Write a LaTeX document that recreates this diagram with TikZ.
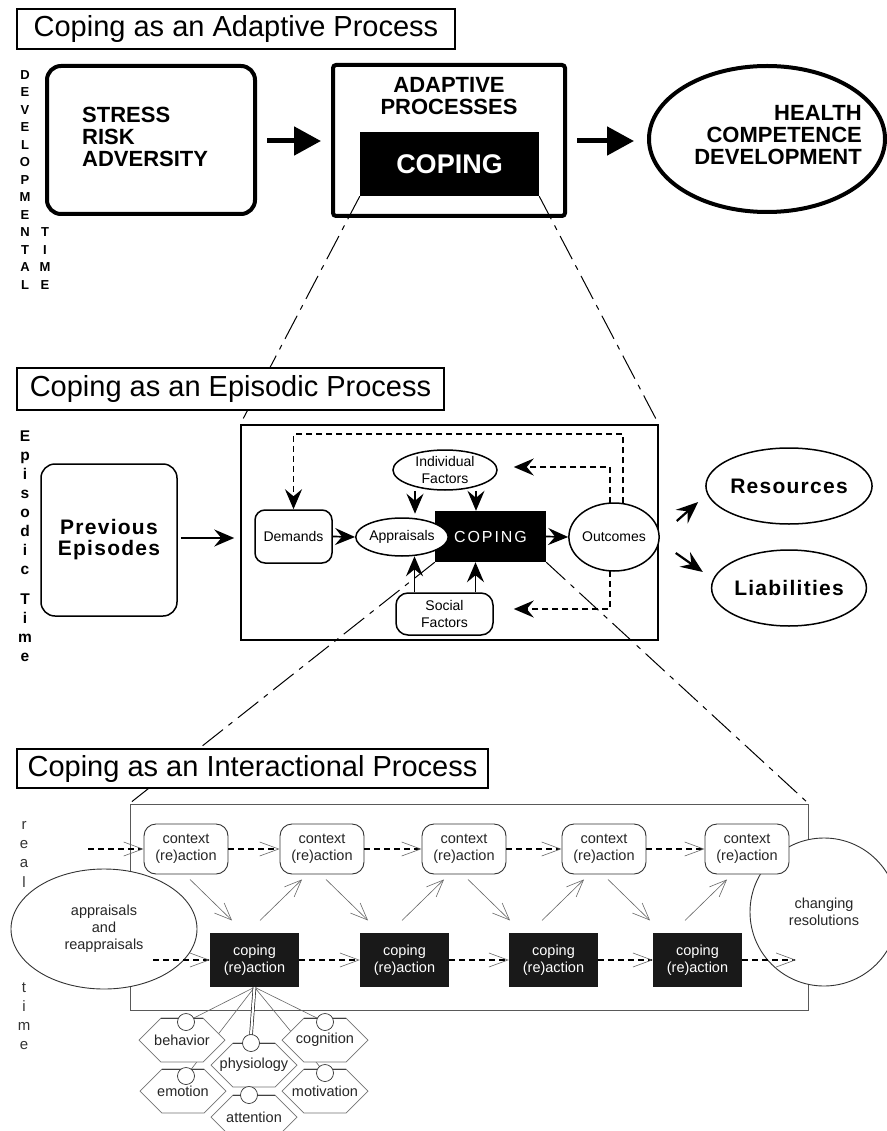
\documentclass[tikz,border=0pt]{standalone}
\usepackage{fontspec}
\setmainfont{Liberation Sans}
\newfontfamily\lsfont{Liberation Sans}[LetterSpace=6]
\newfontfamily\wsfont{Liberation Sans}[LetterSpace=12]
\usetikzlibrary{arrows.meta,calc,shapes.geometric}
\newcommand{\hexcell}[4]{%
  \draw[hexline] (#2) ++(-43,0) -- ++(22,-22) -- ++(42,0) -- ++(22,22) -- ++(-22,22) -- ++(-42,0) -- cycle;
  \draw[line width=0.7pt, black!75] (#2) ++(-21,-22) -- ++(42,0);
  \node[hextext] (#1) at (#2) {#4};
  \node[hexdot] (#1c) at (#3) {};}
\tikzset{
  titlebox/.style={draw, line width=1.3pt, fill=white, inner sep=0pt, font=\fontsize{29}{34}\selectfont},
  bigbold/.style={font=\fontsize{22}{22}\selectfont\bfseries, inner sep=0pt},
  bigarrow/.style={line width=5pt, -{Triangle[length=27pt,width=28pt]}},
  midfont/.style={font=\fontsize{14}{17}\selectfont},
  smallbox/.style={draw, line width=1.5pt, fill=white, inner sep=0pt, midfont, align=center},
  midell/.style={ellipse, draw, line width=1.5pt, fill=white, inner sep=0pt, midfont, align=center},
  midarrow/.style={line width=1.7pt, -{Stealth[length=20pt,width=17pt,inset=7pt]}},
  dasharrow/.style={line width=1.8pt, dash pattern=on 6pt off 4pt, -{Stealth[length=20pt,width=17pt,inset=7pt]}},
  resarrow/.style={line width=2.2pt, -{Stealth[length=22pt,width=18pt,inset=8pt]}},
  zoomline/.style={line width=1pt, dash pattern=on 26pt off 7pt on 5pt off 7pt},
  bigell/.style={ellipse, draw, line width=1.5pt, inner sep=0pt, font=\lsfont\bfseries\fontsize{21}{22}\selectfont},
  vlet/.style={inner sep=0pt, anchor=base, font=\fontsize{13}{13}\selectfont\bfseries},
  elet/.style={inner sep=0pt, anchor=base, font=\fontsize{15.5}{15.5}\selectfont\bfseries},
  rlet/.style={inner sep=0pt, anchor=base, text=black!80, font=\fontsize{15}{15}\selectfont},
  botfont/.style={font=\fontsize{14.5}{17}\selectfont},
  ctxbox/.style={draw=black!80, line width=0.9pt, fill=white, rounded corners=12pt, minimum width=84pt, minimum height=50pt, inner sep=0pt, align=center, botfont, text=black!85},
  copbox/.style={fill=black!90, text=white, minimum width=89pt, minimum height=54pt, inner sep=0pt, align=center, botfont},
  botdash/.style={line width=1.6pt, dash pattern=on 6pt off 4pt, -{Straight Barb[length=19pt,width=14pt,line width=0.6pt,color=black!60]}},
  diag/.style={draw=black!60, line width=0.6pt, -{Straight Barb[length=17pt,width=14pt]}},
  fanline/.style={draw=black!60, line width=0.6pt},
  hexline/.style={draw=black!55, line width=0.7pt, fill=white},
  hextext/.style={inner sep=0pt, botfont, text=black!85},
  hexdot/.style={circle, draw=black!80, line width=0.7pt, fill=white, minimum size=17pt, inner sep=0pt}
}
\begin{document}
\begin{tikzpicture}[x=1pt,y=-1pt]
\useasboundingbox (0,0) rectangle (886,1131);
\fill[white] (0,0) rectangle (886,1131);

% ---------------- vertical labels ----------------
\foreach \l [count=\i from 0] in {D,E,V,E,L,O,P,M,E,N,T,A,L}
  \node[vlet] (dev\i) at (25,{79.5+17.5*\i}) {\l};
\foreach \l [count=\i from 0] in {T,I,M,E}
  \node[vlet] (tim\i) at (45,{237+17.5*\i}) {\l};
\foreach \l/\yy [count=\i] in {E/441,p/460,i/479,s/498,o/517,d/536,i/555,c/574,T/604,i/623,m/642,e/661}
  \node[elet] (epi\i) at (25,\yy) {\l};
\foreach \l/\yy [count=\i] in {r/829,e/848,a/867.5,l/887,t/992.5,i/1011.5,m/1030.5,e/1049.5}
  \node[rlet] (rt\i) at (24,\yy) {\l};

% ---------------- top section ----------------
\node[draw, line width=4pt, rounded corners=14pt, minimum width=208pt, minimum height=148pt] (stress) at (151,140) {};
\node[bigbold, anchor=west, align=left] (stresstxt) at (82,137) {STRESS\\RISK\\ADVERSITY};
\node[draw, line width=4pt, rounded corners=3pt, minimum width=232pt, minimum height=151pt] (adapt) at (449,140.5) {};
\node[bigbold, align=center] (adapttxt) at (449,96) {ADAPTIVE\\PROCESSES};
\node[fill=black, minimum width=179pt, minimum height=64pt, inner sep=0pt, text=white, font=\fontsize{27}{27}\selectfont\bfseries] (copetop) at (449.5,164) {COPING};
\node[ellipse, draw, line width=4pt, minimum width=236pt, minimum height=146pt, inner sep=0pt] (health) at (767,139) {};
\node[bigbold, align=right, anchor=east] (healthtxt) at (862,135) {HEALTH\\COMPETENCE\\DEVELOPMENT};
\draw[bigarrow] ($(stress.east)+(10,1)$) -- ($(adapt.west)+(-10,0.5)$);
\draw[bigarrow] ($(adapt.east)+(10,0.5)$) -- ($(adapt.east -| health.west)+(-13,0.5)$);

% ---------------- middle section ----------------
\node[draw, line width=1.5pt, minimum width=417pt, minimum height=215pt] (epibox) at (449.5,532.5) {};
\draw[zoomline] (copetop.south west) -- (epibox.north west);
\draw[zoomline] (copetop.south east) -- (epibox.north east);

\node[draw, line width=1.5pt, rounded corners=14pt, minimum width=136pt, minimum height=152pt, align=center, font=\lsfont\bfseries\fontsize{21}{21}\selectfont] (prev) at (109,540) {Previous\\Episodes};
\draw[midarrow] ($(prev.east)+(3,-2)$) -- ($(epibox.west)+(-6,5.5)$);

\node[smallbox, rounded corners=10pt, minimum width=77pt, minimum height=53pt] (dem) at (293.5,536.5) {Demands};
\node[fill=black, text=white, minimum width=111pt, minimum height=51pt, inner sep=0pt, font=\wsfont\fontsize{16}{16}\selectfont] (copemid) at (490.5,536.5) {COPING};
\node[midell, minimum width=80pt, minimum height=38pt] (app) at (402,537) {Appraisals};
\node[midell, minimum width=104pt, minimum height=40pt] (ind) at (445,470) {Individual\\Factors};
\node[smallbox, rounded corners=12pt, minimum width=97pt, minimum height=42pt] (soc) at (444.5,614) {Social\\Factors};
\node[midell, minimum width=74pt, minimum height=68pt] (out) at (614,537) {Outcomes};

\draw[midarrow] (dem.east) -- (app.west);
\draw[midarrow] (copemid.east) -- (out.west);
\draw[midarrow] ($(ind.south)+(-30,0)$) -- ($(ind.south)+(-30,23)$);
\draw[midarrow] ($(ind.south)+(31,0)$) -- ($(copemid.north)+(-14.5,0)$);
\draw[midarrow] ($(soc.north)+(-30,0)$) -- ($(soc.north)+(-30,-36)$);
\draw[midarrow] ($(soc.north)+(31,0)$) -- ($(copemid.south)+(-15,0)$);
\draw[dasharrow] ($(out.north)+(9,1)$) -- ++(0,-69) -| (dem.north);
\draw[dasharrow] ($(out.north)+(-4,1)$) |- ($(ind.east)+(16,-3)$);
\draw[dasharrow] ($(out.south)+(-4,-1)$) |- ($(soc.east)+(20,-5)$);

\node[bigell, minimum width=142pt, minimum height=76pt] (res) at (789,486) {Resources};
\node[bigell, minimum width=142pt, minimum height=76pt] (lia) at (789,588) {Liabilities};
\draw[resarrow] ($(epibox.east)+(18,-11.5)$) -- ($(res.west)+(-7,16)$);
\draw[resarrow] ($(epibox.east)+(17,20.5)$) -- ($(lia.west)+(-8,-16)$);

% ---------------- bottom section ----------------
\node[draw=black!65, line width=1pt, minimum width=678pt, minimum height=206pt] (intbox) at (469,907) {};
\draw[zoomline] (copemid.south west) -- (intbox.north west);
\draw[zoomline] (copemid.south east) -- (intbox.north east);

\node[ellipse, draw=black!80, line width=0.9pt, fill=white, minimum width=186pt, minimum height=120pt, inner sep=0pt, align=center, botfont, text=black!85] (reapp) at (104,929) {appraisals\\and\\reappraisals};
\node[circle, draw=black!80, line width=0.9pt, fill=white, minimum size=148pt, inner sep=0pt, align=center, botfont, text=black!85] (chg) at (824,912) {changing\\resolutions};

\node[ctxbox] (ctx1) at (186,849) {context\\(re)action};
\node[ctxbox] (ctx2) at (322,849) {context\\(re)action};
\node[ctxbox] (ctx3) at (464,849) {context\\(re)action};
\node[ctxbox] (ctx4) at (604,849) {context\\(re)action};
\node[ctxbox] (ctx5) at (747,849) {context\\(re)action};
\node[copbox] (cop1) at (254.5,960) {coping\\(re)action};
\node[copbox] (cop2) at (404.5,960) {coping\\(re)action};
\node[copbox] (cop3) at (553.5,960) {coping\\(re)action};
\node[copbox] (cop4) at (697.5,960) {coping\\(re)action};

\coordinate (rowstart) at (88,849);
\coordinate (copstart) at (153,960);
\coordinate (copend) at (796,960);
\draw[botdash] (rowstart) -- (ctx1.west);
\draw[botdash] (ctx1.east) -- (ctx2.west);
\draw[botdash] (ctx2.east) -- (ctx3.west);
\draw[botdash] (ctx3.east) -- (ctx4.west);
\draw[botdash] (ctx4.east) -- (ctx5.west);
\draw[botdash] (copstart) -- (cop1.west);
\draw[botdash] (cop1.east) -- (cop2.west);
\draw[botdash] (cop2.east) -- (cop3.west);
\draw[botdash] (cop3.east) -- (cop4.west);
\draw[botdash] (cop4.east) -- (copend);

\foreach \c in {1,2,3,4}
  \draw[diag] ($(ctx\c.south)+(4,5)$) -- ($(ctx\c.south)+(46,46)$);
\foreach \c in {2,3,4,5}
  \draw[diag] ($(ctx\c.south)+(-62,46)$) -- ($(ctx\c.south)+(-20,5)$);

% fan from first coping box
\draw[fanline] (cop1.south) -- (186,1022);
\draw[fanline] (cop1.south) -- (186,1076);
\draw[fanline] (cop1.south) -- (325,1022);
\draw[fanline] (cop1.south) -- (325,1073);
\draw[double=white, draw=black!85, line width=0.7pt, double distance=2.2pt] (cop1.south) -- (251,1035);

\hexcell{beh}{182,1040}{186,1022}{behavior}
\hexcell{cog}{325,1040}{325,1022}{cognition}
\hexcell{emo}{183,1091}{186,1076}{emotion}
\hexcell{mot}{325,1091}{325,1073}{motivation}
\hexcell{phy}{254,1065}{251,1043}{physiology}
\hexcell{att}{254,1117}{249,1095}{attention}

% ---------------- titles ----------------
\node[titlebox, minimum width=438pt, minimum height=40pt] (t1) at (236,29) {Coping as an Adaptive Process};
\node[titlebox, minimum width=427pt, minimum height=42pt] (t2) at (230.5,389) {Coping as an Episodic Process};
\node[titlebox, minimum width=471pt, minimum height=39pt] (t3) at (252.5,768.5) {Coping as an Interactional Process};
\end{tikzpicture}
\end{document}
